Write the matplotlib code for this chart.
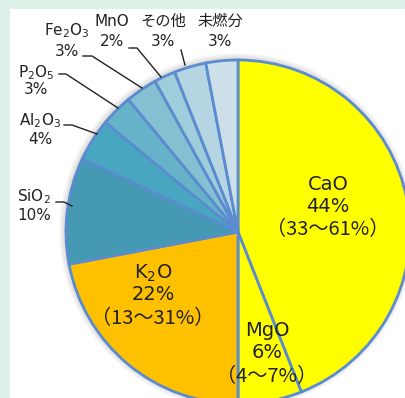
import matplotlib
matplotlib.use("Agg")
import matplotlib.pyplot as plt
from matplotlib.patches import Rectangle, Circle

plt.rcParams['font.family'] = ['DejaVu Sans', 'Noto Sans CJK JP']
plt.rcParams['mathtext.fontset'] = 'dejavusans'
plt.rcParams['mathtext.default'] = 'regular'

# Data (clockwise from top)
components = ['CaO', 'MgO', 'K$_2$O', 'SiO$_2$', 'Al$_2$O$_3$', 'P$_2$O$_5$',
              'Fe$_2$O$_3$', 'MnO', 'その他', '未燃分']
shares = [44, 6, 22, 10, 4, 3, 3, 2, 3, 3]
ranges = ['（33～61%）', '（4～7%）', '（13～31%）', '', '', '', '', '', '', '']
colors = ['#ffff00', '#ffff00', '#ffc000', '#4599b2', '#48a6c0', '#65b2c9',
          '#84c0d2', '#a0cddc', '#b5d5e2', '#cde0ea']

W, H = 405, 398
fig = plt.figure(figsize=(W / 100, H / 100), dpi=100)
fig.patch.set_facecolor('#ddf1e8')
ax = fig.add_axes([0, 0, 1, 1])

def Y(y):
    return H - y

cx, cy, R = 238, Y(232), 172

ax.add_patch(Rectangle((10, 0), W - 10, Y(9), facecolor='white', edgecolor='none', zorder=0))
# soft shadow
for k in range(1, 7):
    ax.add_patch(Circle((cx - 1, cy + 1), R + k, facecolor='#000000', alpha=0.025,
                        edgecolor='none', zorder=0.5))

ax.pie(shares, colors=colors, startangle=90, counterclock=False,
       center=(cx, cy), radius=R,
       wedgeprops=dict(edgecolor='#5a8ccf', linewidth=2.0))

ax.set_xlim(0, W)
ax.set_ylim(0, H)
ax.set_aspect('auto')
ax.axis('off')

tc = '#222222'
# inner labels
inner = {0: (328, 184), 2: (153, 273), 1: (267, 331)}
for i, (x, y) in inner.items():
    ax.text(x, Y(y), components[i], ha='center', va='center', fontsize=14, color=tc)
    ax.text(x, Y(y + 22), f'{shares[i]}%', ha='center', va='center', fontsize=14, color=tc)
    ax.text(x, Y(y + 46), ranges[i], ha='center', va='center', fontsize=14.5, color=tc,
            family=['Noto Sans CJK JP', 'DejaVu Sans'])

# outer labels: (index, label x, name y, pct y)
outer = {3: (34, 197, 216), 4: (40, 121, 140), 5: (36, 73, 90),
         6: (67, 31, 51), 7: (112, 21, 41), 8: (163, 21, 41), 9: (220, 21, 41)}
for i, (x, y1, y2) in outer.items():
    ax.text(x, Y(y1), components[i], ha='center', va='center', fontsize=11, color=tc)
    ax.text(x, Y(y2), f'{shares[i]}%', ha='center', va='center', fontsize=11, color=tc)

# leader lines (pixel coords)
leaders = [
    [(56, 202), (64, 202), (72, 206)],
    [(64, 125), (72, 125), (97, 134)],
    [(59, 74), (66, 74), (118, 108)],
    [(83, 56), (92, 56), (142, 88)],
    [(129, 48), (137, 48), (161, 77)],
    [(181, 50), (185, 65)],
]
for pts in leaders:
    xs = [p[0] for p in pts]
    ys = [Y(p[1]) for p in pts]
    ax.plot(xs, ys, color=tc, linewidth=1.0, zorder=5)

fig.savefig('out.png', dpi=100, facecolor=fig.get_facecolor())
